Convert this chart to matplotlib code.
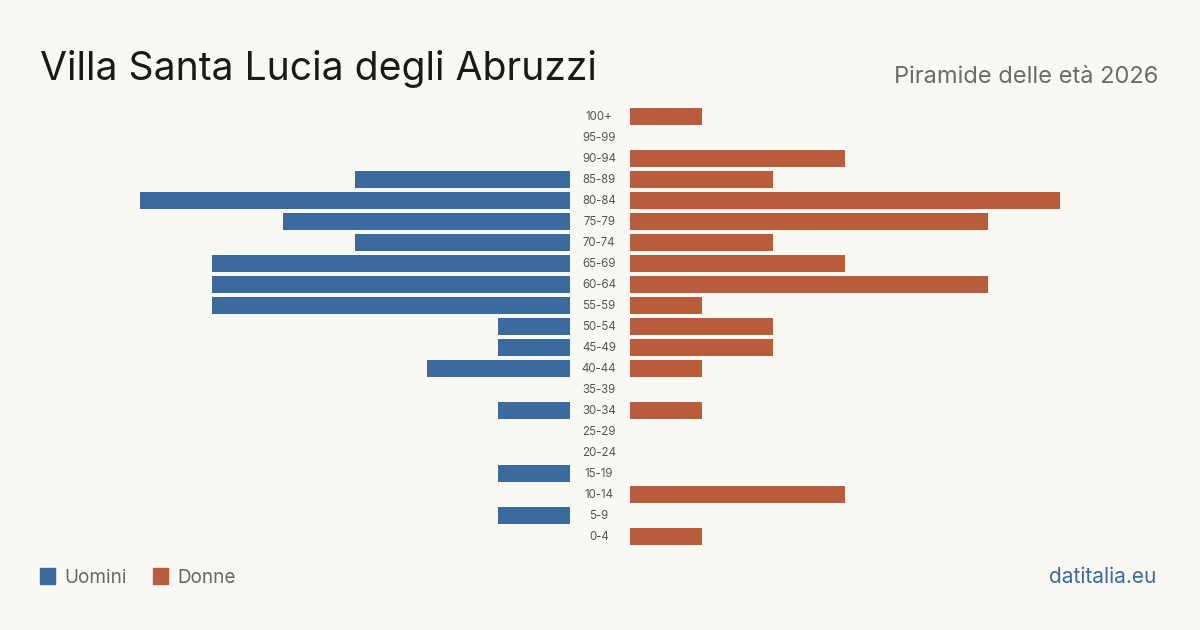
import matplotlib
matplotlib.use("Agg")
import matplotlib.pyplot as plt
from matplotlib.patches import Rectangle

age_groups = ["100+", "95-99", "90-94", "85-89", "80-84", "75-79", "70-74",
              "65-69", "60-64", "55-59", "50-54", "45-49", "40-44", "35-39",
              "30-34", "25-29", "20-24", "15-19", "10-14", "5-9", "0-4"]
men = [0, 0, 0, 3, 6, 4, 3, 5, 5, 5, 1, 1, 2, 0, 1, 0, 0, 1, 0, 1, 0]
women = [1, 0, 3, 2, 6, 5, 2, 3, 5, 1, 2, 2, 1, 0, 1, 0, 0, 0, 3, 0, 1]

bg = "#f9f8f3"
blue = "#3a6b9c"
orange = "#b95c3c"
plt.rcParams['font.family'] = ['Inter', 'DejaVu Sans']

W, H = 1200, 630
fig = plt.figure(figsize=(12, 6.3), dpi=100, facecolor=bg)

def fx(px):
    return px / W

def fy(py):
    return 1 - py / H

top, bottom = 106, 547
ax_h = (bottom - top) / H
axl = fig.add_axes([fx(140), fy(bottom), fx(430), ax_h])
axr = fig.add_axes([fx(630), fy(bottom), fx(430), ax_h])

maxv = max(max(men), max(women))
ypos = list(range(len(age_groups)))
axl.barh(ypos, men, height=0.8, color=blue)
axr.barh(ypos, women, height=0.8, color=orange)
axl.set_xlim(maxv, 0)
axr.set_xlim(0, maxv)
for ax in (axl, axr):
    ax.set_ylim(len(age_groups) - 0.5, -0.5)
    ax.axis("off")
    ax.set_facecolor("none")

for i, lab in enumerate(age_groups):
    py = top + (i + 0.5) * (bottom - top) / len(age_groups)
    fig.text(fx(599), fy(py + 0.5), lab, ha="center", va="center",
             fontsize=8.3, color="#555555")

fig.text(fx(40), fy(80), "Villa Santa Lucia degli Abruzzi", fontsize=28.2,
         color="#1a1a1a", ha="left", va="baseline")
fig.text(fx(1158), fy(83), "Piramide delle età 2026", fontsize=17,
         color="#6b6b6b", ha="right", va="baseline")

fig.patches.append(Rectangle((fx(40), fy(584)), fx(15), 16 / H,
                             transform=fig.transFigure, color=blue))
fig.text(fx(64), fy(583), "Uomini", fontsize=13.6, color="#666666",
         ha="left", va="baseline")
fig.patches.append(Rectangle((fx(153), fy(584)), fx(15), 16 / H,
                             transform=fig.transFigure, color=orange))
fig.text(fx(177), fy(583), "Donne", fontsize=13.6, color="#666666",
         ha="left", va="baseline")
fig.text(fx(1156), fy(583), "datitalia.eu", fontsize=15, color=blue,
         ha="right", va="baseline")

fig.savefig("out.png", dpi=100, facecolor=bg)
